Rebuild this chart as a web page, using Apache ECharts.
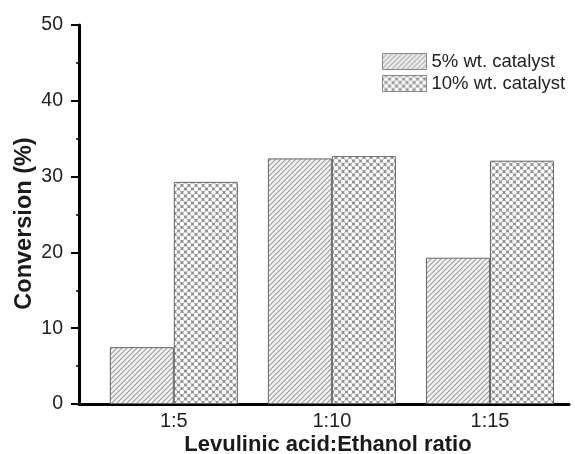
<!DOCTYPE html>
<html>
<head>
<meta charset="utf-8">
<script src="https://cdn.jsdelivr.net/npm/echarts@6/dist/echarts.min.js"></script>
<style>html,body{margin:0;padding:0;background:#fff}#c{width:575px;height:454px}</style>
</head>
<body>
<div id="c"></div>
<script>
const categories = ['1:5', '1:10', '1:15'];
const catPositions = [10, 20, 30];
const seriesNames = ['5% wt. catalyst', '10% wt. catalyst'];
const values5 = [7.5, 32.4, 19.3];
const values10 = [29.3, 32.7, 32.1];
const yTicks = [0, 10, 20, 30, 40, 50];

function hatchPattern() {
  const s = 5, c = document.createElement('canvas');
  c.width = s; c.height = s;
  const g = c.getContext('2d');
  g.fillStyle = '#f3f3f3'; g.fillRect(0, 0, s, s);
  g.strokeStyle = '#a0a0a0'; g.lineWidth = 1.2;
  g.beginPath();
  g.moveTo(-1, s + 1); g.lineTo(s + 1, -1);
  g.moveTo(-1, 1); g.lineTo(1, -1);
  g.moveTo(s - 1, s + 1); g.lineTo(s + 1, s - 1);
  g.stroke();
  return c;
}
function dotPattern() {
  const s = 7, c = document.createElement('canvas');
  c.width = s; c.height = s;
  const g = c.getContext('2d');
  g.fillStyle = '#8e8e8e'; g.fillRect(0, 0, s, s);
  g.fillStyle = '#ffffff';
  const pts = [[0,0],[s,0],[0,s],[s,s],[s/2,s/2]];
  pts.forEach(p => { g.beginPath(); g.arc(p[0], p[1], 2.25, 0, Math.PI*2); g.fill(); });
  return c;
}

const chart = echarts.init(document.getElementById('c'), null, {renderer: 'canvas'});
const font = 'Liberation Sans, Arial, sans-serif';
chart.setOption({
  animation: false,
  backgroundColor: '#ffffff',
  textStyle: {fontFamily: font},
  grid: {left: 79, right: 6, top: 25, bottom: 50, containLabel: false, outerBoundsMode: 'none'},
  legend: {
    orient: 'vertical', left: 377, top: 47,
    icon: 'rect',
    itemWidth: 44, itemHeight: 16, itemGap: 3,
    textStyle: {fontSize: 18.5, color: '#222', fontFamily: font},
    itemStyle: {borderColor: '#888', borderWidth: 1},
    data: seriesNames
  },
  xAxis: {
    type: 'value', min: 4, max: 35, interval: 2,
    name: 'Levulinic acid:Ethanol ratio', nameLocation: 'middle', nameGap: 30, nameMoveOverlap: false,
    nameTextStyle: {fontSize: 22, fontWeight: 'bold', color: '#1a1a1a', fontFamily: font, padding: [0, 0, 0, 8]},
    axisLine: {show: true, lineStyle: {color: '#000', width: 3}},
    axisTick: {show: false},
    splitLine: {show: false},
    axisLabel: {
      fontSize: 20, color: '#222', margin: 7, fontFamily: font,
      showMinLabel: true, showMaxLabel: false,
      formatter: v => { const i = catPositions.indexOf(v); return i >= 0 ? categories[i] : ''; }
    }
  },
  yAxis: {
    type: 'value', min: yTicks[0], max: yTicks[yTicks.length-1], interval: 10,
    name: 'Conversion (%)', nameLocation: 'middle', nameGap: 42, nameRotate: 90, nameMoveOverlap: false,
    nameTextStyle: {fontSize: 23.5, fontWeight: 'bold', color: '#1a1a1a', fontFamily: font, padding: [0, 18, 0, 0]},
    axisLine: {show: true, lineStyle: {color: '#000', width: 3}},
    axisTick: {show: true, inside: false, length: 8, lineStyle: {color: '#000', width: 2}},
    minorTick: {show: true, splitNumber: 2, length: 3, lineStyle: {color: '#000', width: 1.5}},
    splitLine: {show: false},
    axisLabel: {fontSize: 19.5, color: '#222', margin: 16, fontFamily: font}
  },
  series: [
    {
      name: seriesNames[0], type: 'bar', barWidth: 64, barGap: '0%',
      itemStyle: {color: {image: hatchPattern(), repeat: 'repeat'}, borderColor: '#666', borderWidth: 1},
      data: catPositions.map((x, i) => [x, values5[i]])
    },
    {
      name: seriesNames[1], type: 'bar', barWidth: 64, barGap: '0%',
      itemStyle: {color: {image: dotPattern(), repeat: 'repeat'}, borderColor: '#666', borderWidth: 1},
      data: catPositions.map((x, i) => [x, values10[i]])
    }
  ]
});
</script>
</body>
</html>
